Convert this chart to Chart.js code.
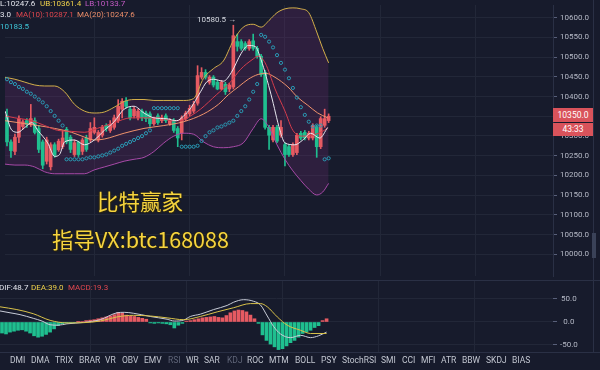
<!DOCTYPE html>
<html>
<head>
<meta charset="utf-8">
<script src="https://cdn.jsdelivr.net/npm/chart.js@4.4.0/dist/chart.umd.min.js"></script>
<style>
body{margin:0;width:600px;height:370px;overflow:hidden;position:relative;background:#171b2c;font-family:Roboto,"Noto Sans",sans-serif;}
canvas{position:absolute;left:0;}
.t{position:absolute;font-size:8px;line-height:10px;white-space:nowrap;}
.tab{position:absolute;top:355px;font-size:8.5px;line-height:10px;color:#c3c7d1;white-space:nowrap;}
.sep{position:absolute;background:#2a3045;}
.wm{position:absolute;font-family:"Noto Sans CJK SC","Noto Sans",sans-serif;font-size:21.5px;line-height:22px;color:#f6d43e;white-space:nowrap;text-shadow:1px 1px 1px #2a2410,-1px 0 1px #2a2410;}
.box{position:absolute;left:553px;width:40px;background:#d9535b;color:#fff;font-size:8.5px;text-align:center;}
</style>
</head>
<body>
<canvas id="main" width="600" height="281" style="top:0"></canvas>
<canvas id="macd" width="600" height="72" style="top:281px"></canvas>

<div class="sep" style="left:0;top:280px;width:600px;height:1px"></div>
<div class="sep" style="left:0;top:352px;width:600px;height:1px"></div>
<div class="sep" style="left:593px;top:0;width:1px;height:353px"></div>
<div style="position:absolute;left:592px;top:233px;width:4px;height:25px;background:#3a4258"></div>

<!-- indicator legends -->
<div class="t" style="left:0;top:-1.5px;color:#e4e6ee">L:10247.6</div>
<div class="t" style="left:40px;top:-1.5px;color:#f0d24a">UB:10361.4</div>
<div class="t" style="left:85px;top:-1.5px;color:#c25ac4">LB:10133.7</div>
<div class="t" style="left:0;top:10px;color:#e4e6ee">3.0</div>
<div class="t" style="left:16px;top:10px;color:#e0474f">MA(10):10287.1</div>
<div class="t" style="left:77px;top:10px;color:#ee8f6a">MA(20):10247.6</div>
<div class="t" style="left:0;top:22px;color:#3ec6d8">10183.5</div>
<div class="t" style="left:197px;top:15px;color:#d5d8e0">10580.5 &#8594;</div>

<div class="wm" style="left:97px;top:190px">比特赢家</div>
<div class="wm" style="left:52px;top:228px">指导VX:btc168088</div>

<div class="box" style="top:108px;height:14px;line-height:14px">10350.0</div>
<div class="box" style="top:123px;height:13px;line-height:13px">43:33</div>

<div class="t" style="left:-1px;top:283px;color:#e4e6ee">DIF:48.7</div>
<div class="t" style="left:31px;top:283px;color:#f0d24a">DEA:39.0</div>
<div class="t" style="left:68px;top:283px;color:#e0474f">MACD:19.3</div>

<!-- indicator tabs -->
<div class="tab" style="left:-24px;color:#3b7fe0">MACD</div>
<div class="tab" style="left:10px">DMI</div>
<div class="tab" style="left:31px">DMA</div>
<div class="tab" style="left:55px">TRIX</div>
<div class="tab" style="left:79px">BRAR</div>
<div class="tab" style="left:105px">VR</div>
<div class="tab" style="left:122px">OBV</div>
<div class="tab" style="left:144px">EMV</div>
<div class="tab" style="left:168px;color:#5f6578">RSI</div>
<div class="tab" style="left:186px">WR</div>
<div class="tab" style="left:204px">SAR</div>
<div class="tab" style="left:227px;color:#5f6578">KDJ</div>
<div class="tab" style="left:247px">ROC</div>
<div class="tab" style="left:269px">MTM</div>
<div class="tab" style="left:295px">BOLL</div>
<div class="tab" style="left:321px">PSY</div>
<div class="tab" style="left:342px">StochRSI</div>
<div class="tab" style="left:381px">SMI</div>
<div class="tab" style="left:402px">CCI</div>
<div class="tab" style="left:421px">MFI</div>
<div class="tab" style="left:441px">ATR</div>
<div class="tab" style="left:462px">BBW</div>
<div class="tab" style="left:486px">SKDJ</div>
<div class="tab" style="left:512px">BIAS</div>

<script>
// candles, one per index
var candleOpen = [10351,10285,10261,10297,10324,10339,10329,10339,10319,10285,10236,10222,10278,10265,10273,10317,10297,10253,10285,10261,
  10295,10290,10309,10290,10302,10327,10314,10322,10339,10368,10388,10368,10351,10346,10363,10358,10356,10331,10351,10339,
  10351,10331,10339,10319,10307,10344,10356,10363,10383,10449,10461,10436,10449,10436,10419,10431,10419,10424,10539,10539,
  10534,10522,10541,10522,10502,10461,10322,10290,10322,10302,10278,10273,10253,10258,10307,10309,10295,10295,10322,10273,
  10327,10339];
var candleHigh = [10368,10290,10305,10351,10341,10344,10380,10346,10327,10290,10297,10283,10283,10292,10314,10322,10302,10290,10287,10295,
  10302,10334,10346,10314,10327,10331,10339,10353,10392,10395,10397,10373,10373,10368,10368,10363,10361,10348,10356,10353,
  10356,10344,10344,10324,10351,10363,10378,10388,10478,10473,10468,10453,10453,10441,10441,10436,10434,10580.5,10558,10544,
  10539,10544,10558,10527,10507,10466,10327,10327,10327,10339,10283,10278,10283,10307,10312,10314,10312,10331,10327,10349,
  10368,10356];
var candleLow = [10275,10246,10253,10283,10317,10322,10324,10305,10258,10217,10229,10214,10246,10261,10268,10280,10258,10248,10248,10253,
  10261,10285,10305,10285,10297,10312,10309,10317,10334,10346,10370,10341,10346,10341,10339,10336,10324,10327,10329,10334,
  10334,10327,10309,10273,10290,10339,10351,10358,10378,10444,10444,10431,10424,10417,10417,10405,10412,10419,10515,10517,
  10517,10517,10517,10497,10451,10317,10266,10285,10283,10297,10224,10248,10248,10253,10290,10290,10290,10290,10246,10268,
  10322,10334];
var candleClose = [10285,10263,10297,10344,10336,10329,10344,10309,10266,10226,10290,10278,10251,10287,10295,10285,10266,10283,10253,10290,
  10266,10319,10322,10309,10322,10319,10329,10346,10375,10388,10375,10346,10368,10363,10346,10344,10331,10344,10334,10346,
  10339,10339,10314,10295,10346,10358,10370,10380,10453,10461,10449,10449,10429,10419,10436,10412,10429,10554,10527,10522,
  10522,10539,10522,10502,10456,10322,10302,10322,10287,10322,10253,10253,10278,10302,10295,10295,10307,10327,10273,10344,
  10344,10350];

// parabolic SAR dots, one per candle
var sarValues = [10443.7,10436.4,10431.5,10424.2,10419.3,10412,10407.1,10399.8,10392.4,10385.1,10375.3,10363.1,10350.9,10338.7,10326.5,
  10241,10241,10241,10241,10241,10243.5,10245.9,10245.9,10248.4,10250.8,10253.2,10258.1,10263,10267.9,10275.2,10280.1,10285,
  10289.9,10294.8,10299.6,10307,10314.3,10370.5,10370.5,10370.5,10370.5,10370.5,10370.5,10370.5,10272.8,10272.8,10272.8,10272.8,
  10275.2,10287.4,10299.6,10309.4,10314.3,10321.6,10324.1,10328.9,10333.8,10338.7,10350.9,10363.1,10375.3,10392.4,10412,10431.5,
  10556,10551.2,10539,10524.3,10504.8,10485.2,10468.1,10446.2,10421.7,10397.3,10372.9,10353.4,10336.2,10324.1,10326.5,10326.5,
  10241,10243.5];

// bollinger bands, sampled at these candle positions
var bandIdx = [-0.5,2,4.5,7,9.5,12,14.5,17,19.5,22,24.5,27,29.5,32,34.5,37,39.5,42,44.5,47,49.5,52,54.5,57,59.5,62,64,66,68,70,72,74,76,78,79.5,81];
var bollUpper = [10448.6,10443.7,10436.4,10429.1,10426.6,10426.6,10412,10380.2,10363.1,10358.2,10360.7,10372.9,10387.5,10392.4,10392.4,10390,10390,10390,
  10390,10394.9,10446.2,10470.6,10490.1,10541.4,10575.6,10582.9,10575.6,10592.7,10612.2,10622,10624.4,10622,10612.2,10563.4,10521.9,10485.2];
var bollLower = [10228.8,10226.4,10226.4,10221.5,10209.3,10204.4,10204.4,10204.4,10204.4,10214.2,10221.5,10228.8,10236.2,10241,10245.9,10260.6,10282.5,10299.6,
  10307,10304.5,10285,10272.8,10270.3,10272.8,10282.5,10319.2,10343.6,10321.6,10277.7,10241,10211.7,10187.3,10165.3,10150.7,10158,10180];

// moving averages as [candle position, price]
var ma20Line = [[-0.5,10338.7],[4.5,10331.4],[7.75,10326.5],[12,10319.2],[16.25,10309.4],[19.5,10297.2],[22,10289.9],[24.5,10292.3],[29.5,10307],
  [34.5,10319.2],[39.5,10326.5],[44.5,10336.2],[49.5,10355.8],[53.25,10380.2],[55.75,10404.6],[58.25,10424.2],[60.75,10443.7],[63.25,10455.9],
  [65.25,10458.4],[67.5,10448.6],[70.75,10424.2],[73.25,10397.3],[75.75,10377.8],[78.25,10358.2],[80.75,10346]];
var ma10Line = [[-0.5,10350.9],[2,10346],[6.25,10338.7],[9.5,10326.5],[12.75,10314.3],[16.25,10311.8],[19.5,10309.4],[22.75,10319.2],[27,10333.8],
  [31.25,10346],[34.5,10346],[38.75,10346],[41.25,10338.7],[43.75,10338.7],[46.25,10350.9],[48.75,10368],[52.75,10404.6],[56.25,10436.4],
  [58.75,10468.1],[62,10495],[63.25,10502.3],[65,10485.2],[67.5,10419.3],[70,10363.1],[72,10314.3],[74.5,10299.6],[77,10302.1],[79,10309.4],[80.75,10319.2]];
var ma5Line = [[-0.5,10363.1],[1.25,10314.3],[2.75,10309.4],[4.5,10321.6],[6.25,10333.8],[7.75,10314.3],[10.25,10282.5],[12,10248.4],[13.25,10253.2],
  [14.5,10285],[17,10289.9],[19.5,10277.7],[22,10289.9],[24.5,10314.3],[27,10336.2],[29.5,10368],[32,10375.3],[34.5,10358.2],[37,10346],
  [40.25,10343.6],[42.75,10338.7],[44.5,10350.9],[46.25,10370.5],[48.75,10412],[50.25,10436.4],[52,10443.7],[54.5,10438.8],[56.5,10460.8],
  [59,10509.6],[60.75,10529.2],[62.5,10526.7],[64,10492.6],[66.5,10404.6],[68.75,10314.3],[70,10282.5],[72.5,10277.7],[74.5,10289.9],
  [76.5,10307],[78.75,10294.8],[80.75,10321.6]];

// MACD panel
var macdHist = [-24,-26,-22,-20,-18,-17,-20,-24,-30,-33,-31,-27,-22,-15,-8,-4,-2,-1,-1,0.5,
  1,3,4,5,7,9,11,13,16,21,19,15,13,12,10,8,6,-2,-3,-2,
  -3,-4,-6,-13,-7,-3,2,3,5,7,9,10,11,12,10,9,14,20,24,26,
  25,22,15,7,-3,-28,-40,-48,-54,-60,-58,-52,-45,-40,-33,-25,-22,-18,-12,-8,
  3,7];
var difLine = [[-0.5,24],[2,20],[4.5,16],[7.8,8],[10,2],[12,-6],[14,-7],[16.2,-4],[20.3,-1],[24.5,5],[28.7,20],[30.5,21],[32.8,19],[37,12],
  [41.2,6],[43,2],[45.3,4],[47,12],[49.5,17],[52.8,27],[56.2,36],[57.8,43],[60.3,48.5],[62.8,45],[64.5,37],[66.2,13],[67.8,-10],
  [69.5,-26],[72,-34],[74.5,-29],[77,-34],[79,-30],[81,-22]];
var deaLine = [[-0.5,33],[3.7,27],[7.8,18],[12,3.6],[16.2,-2],[20.3,-1.5],[24.5,2],[28.7,11],[32.8,14.5],[37,13],[41.2,9],[45.3,5],
  [49.5,12],[53.7,22],[57.8,31],[62,40],[64.5,40],[66.2,33],[68.7,11],[71.2,-7],[74.5,-18],[77,-25],[81,-25]];

var priceTicks = [10000,10050,10100,10150,10200,10250,10300,10350,10400,10450,10500,10550,10600];
var macdTicks = [-50,0,50];
var gridIdx = [22,46,70,94,118];

var UP = '#e65a62', DOWN = '#1fbf8f', GRID = '#222738', LABEL = '#b5b9c6';

Chart.defaults.font.family = 'Roboto';

var candleColors = candleClose.map(function(c, i){ return c >= candleOpen[i] ? UP : DOWN; });
var bodies = candleOpen.map(function(o, i){ return {x: i, y: [o, candleClose[i]]}; });
var wicks = candleLow.map(function(l, i){ return {x: i, y: [l, candleHigh[i]]}; });
function pairs(arr){ return arr.map(function(p){ return {x: p[0], y: p[1]}; }); }

function lineSet(data, color, order, extra){
  var ds = {type: 'line', data: data, borderColor: color, borderWidth: 1, pointRadius: 0,
    cubicInterpolationMode: 'monotone', fill: false, order: order};
  for (var k in extra) ds[k] = extra[k];
  return ds;
}

function xScale(){
  return {
    type: 'linear', min: -0.5, max: 137.5, offset: false,
    grid: {color: GRID, drawTicks: false, offset: false},
    border: {display: false},
    ticks: {display: false},
    afterBuildTicks: function(a){ a.ticks = gridIdx.map(function(v){ return {value: v}; }); },
    afterFit: function(a){ a.height = 0; a.paddingLeft = 0; a.paddingRight = 0; }
  };
}

function yScale(min, max, tickList, border){
  return {
    position: 'right', min: min, max: max,
    afterBuildTicks: function(a){ a.ticks = tickList.map(function(v){ return {value: v}; }); },
    ticks: {color: LABEL, font: {size: 8}, padding: 3, crossAlign: 'center',
      callback: function(v){ return Number(v).toFixed(1); }},
    grid: {color: GRID, tickLength: 4, tickColor: '#59607a'},
    border: {display: border, color: '#2a3045'},
    afterFit: function(a){ a.width = 40; a.paddingTop = 0; a.paddingBottom = 0; }
  };
}

//price chart with BOLL, MA and SAR
new Chart(document.getElementById('main'), {
  type: 'bar',
  data: {
    datasets: [
      lineSet(bandIdx.map(function(x, i){ return {x: x, y: bollUpper[i]}; }), '#d4b04a', 6),
      lineSet(bandIdx.map(function(x, i){ return {x: x, y: bollLower[i]}; }), '#a84aa8', 5,
        {fill: 0, backgroundColor: 'rgba(120,45,120,0.24)'}),
      {data: wicks, backgroundColor: candleColors, barThickness: 1, grouped: false, order: 9},
      {data: bodies, backgroundColor: candleColors, barThickness: 3, grouped: false, minBarLength: 1, order: 8},
      lineSet(pairs(ma20Line), '#f0936c', 4),
      lineSet(pairs(ma10Line), '#d63c4c', 3),
      lineSet(pairs(ma5Line), '#e6e6ee', 2),
      {type: 'line', data: sarValues.map(function(v, i){ return {x: i, y: v}; }), showLine: false,
        pointRadius: 1.6, pointBorderWidth: 1, pointBackgroundColor: 'rgba(0,0,0,0)',
        borderColor: '#2a9bb5', pointBorderColor: '#2a9bb5', order: 1}
    ]
  },
  options: {
    responsive: false, animation: false, devicePixelRatio: 1,
    layout: {padding: {left: 0, right: 7, top: 0, bottom: 0}},
    plugins: {legend: {display: false}, tooltip: {enabled: false}, filler: {drawTime: 'beforeDatasetsDraw'}},
    scales: {x: xScale(), y: yScale(9945.5, 10631.7, priceTicks, true)}
  }
});

//MACD panel
new Chart(document.getElementById('macd'), {
  type: 'bar',
  data: {
    datasets: [
      {data: macdHist.map(function(v, i){ return {x: i, y: v}; }),
        backgroundColor: macdHist.map(function(v){ return v >= 0 ? UP : DOWN; }),
        barThickness: 3, grouped: false, order: 5},
      lineSet(pairs(difLine), '#c9cdd8', 2),
      lineSet(pairs(deaLine), '#d9c24a', 1)
    ]
  },
  options: {
    responsive: false, animation: false, devicePixelRatio: 1,
    layout: {padding: {left: 0, right: 7, top: 0, bottom: 0}},
    plugins: {legend: {display: false}, tooltip: {enabled: false}},
    scales: {x: xScale(), y: yScale(-67.4, 89.1, macdTicks, false)}
  }
});
</script>
</body>
</html>
